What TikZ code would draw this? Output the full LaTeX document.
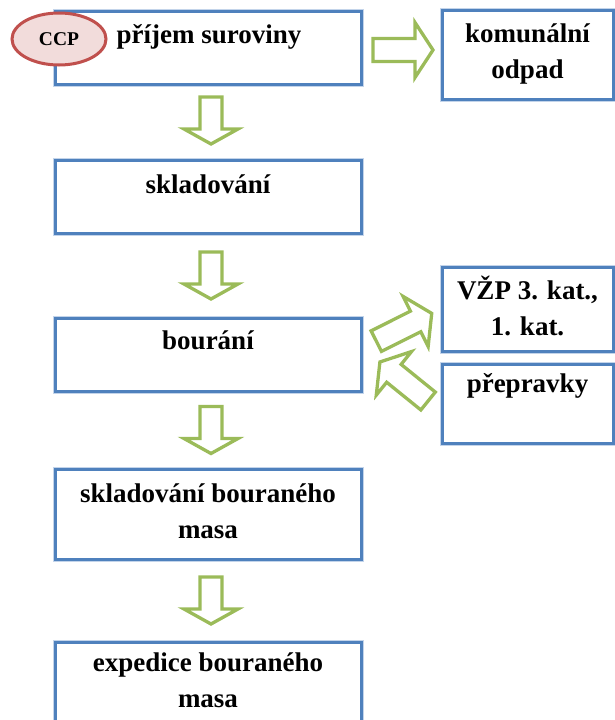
\documentclass[tikz,border=0pt]{standalone}
\usepackage{fontspec}
\setmainfont{Liberation Serif}
\usetikzlibrary{shapes.geometric,calc}
\definecolor{boxblue}{HTML}{4F81BD}
\definecolor{boxglow}{HTML}{C3D4EA}
\definecolor{arrowgreen}{HTML}{9BBB59}
\definecolor{ccpred}{HTML}{C0504D}
\definecolor{ccpfill}{HTML}{F2DCDB}

% hollow block arrow: #1 centre, #2 direction, #3 length,
% #4 half shaft width, #5 half head width, #6 head length
\newcommand\blockarrow[6]{%
  \draw[garrow, shift={(#1)}, rotate=#2]
    ({-#3/2},{-#4}) -- ({#3/2-#6},{-#4}) -- ({#3/2-#6},{-#5}) -- ({#3/2},0)
    -- ({#3/2-#6},{#5}) -- ({#3/2-#6},{#4}) -- ({-#3/2},{#4}) -- cycle;}

\begin{document}
\begin{tikzpicture}[x=1pt,y=-1pt,
  stepbox/.style={draw=boxblue, line width=3pt, fill=white, minimum width=306pt,
    inner sep=0pt, preaction={draw=boxglow, line width=5pt}},
  sidebox/.style={stepbox, minimum width=171pt},
  txt/.style={font=\fontsize{27}{36}\selectfont\bfseries, align=center,
    inner sep=0pt, anchor=base},
  garrow/.style={draw=arrowgreen, line width=3.3pt, fill=white, line join=miter},
  ccp/.style={ellipse, draw=ccpred, line width=3pt, fill=ccpfill,
    minimum width=94pt, minimum height=52pt, inner sep=0pt,
    font=\fontsize{19.5}{22}\selectfont\bfseries}]
\useasboundingbox (0,0) rectangle (614,720);

% main process column
\node[stepbox, minimum height=73pt] (b1) at (208,47.5) {};
\node[stepbox, minimum height=73pt] (b2) at (208,196.5) {};
\node[stepbox, minimum height=73pt] (b3) at (208,354.5) {};
\node[stepbox, minimum height=90pt] (b4) at (208,514) {};
\node[stepbox, minimum height=89pt] (b5) at (208,686.5) {};

% side outputs and inputs
\node[sidebox, minimum height=89pt] (r1) at (527.5,54.5) {};
\node[sidebox, minimum height=84pt] (r2) at (527.5,309) {};
\node[sidebox, minimum height=79pt] (r3) at (527.5,403.5) {};

% labels (a two-line label is placed by the baseline of its last line)
\node[txt] (t1) at (209,43) {příjem suroviny};
\node[txt] (t2) at (208,193) {skladování};
\node[txt] (t3) at (208,349) {bourání};
\node[txt] (t4) at (208,538) {skladování bouraného\\masa};
\node[txt] (t5) at (208,707) {expedice bouraného\\masa};
\node[txt] (tr1) at (527.5,78) {komunální\\odpad};
\node[txt] (tr2) at (527.5,335) {VŽP 3. kat.,\\1. kat.};
\node[txt] (tr3) at (527.5,392) {přepravky};

% critical control point marker
\node[ccp] (ccp) at (59,39) {CCP};

% flow arrows
\coordinate (a1) at ($(b1.south)!0.5!(b2.north)+(3,-1.5)$);
\coordinate (a2) at ($(b2.south)!0.5!(b3.north)+(3,0)$);
\coordinate (a3) at ($(b3.south)!0.5!(b4.north)+(3,0)$);
\coordinate (a4) at ($(b4.south)!0.5!(b5.north)+(3,0)$);
\coordinate (ar) at ($(b1.east)!0.5!(r1.west)+(1.5,-1)$);
\coordinate (au) at ($(b3.east)!0.5!(r2.west)+(2.5,-4.5)$);
\coordinate (al) at ($(b3.east)!0.5!(r3.west)+(2.5,2.5)$);

\blockarrow{a1}{-90}{47}{11}{27}{15}
\blockarrow{a2}{-90}{47}{11}{27}{15}
\blockarrow{a3}{-90}{47}{11}{27}{15}
\blockarrow{a4}{-90}{47}{11}{27}{15}
\blockarrow{ar}{0}{60}{11.5}{27.5}{18}
\blockarrow{au}{26.6}{62}{11.5}{28}{18}
\blockarrow{al}{141}{62}{11.5}{28}{18}
\end{tikzpicture}
\end{document}
